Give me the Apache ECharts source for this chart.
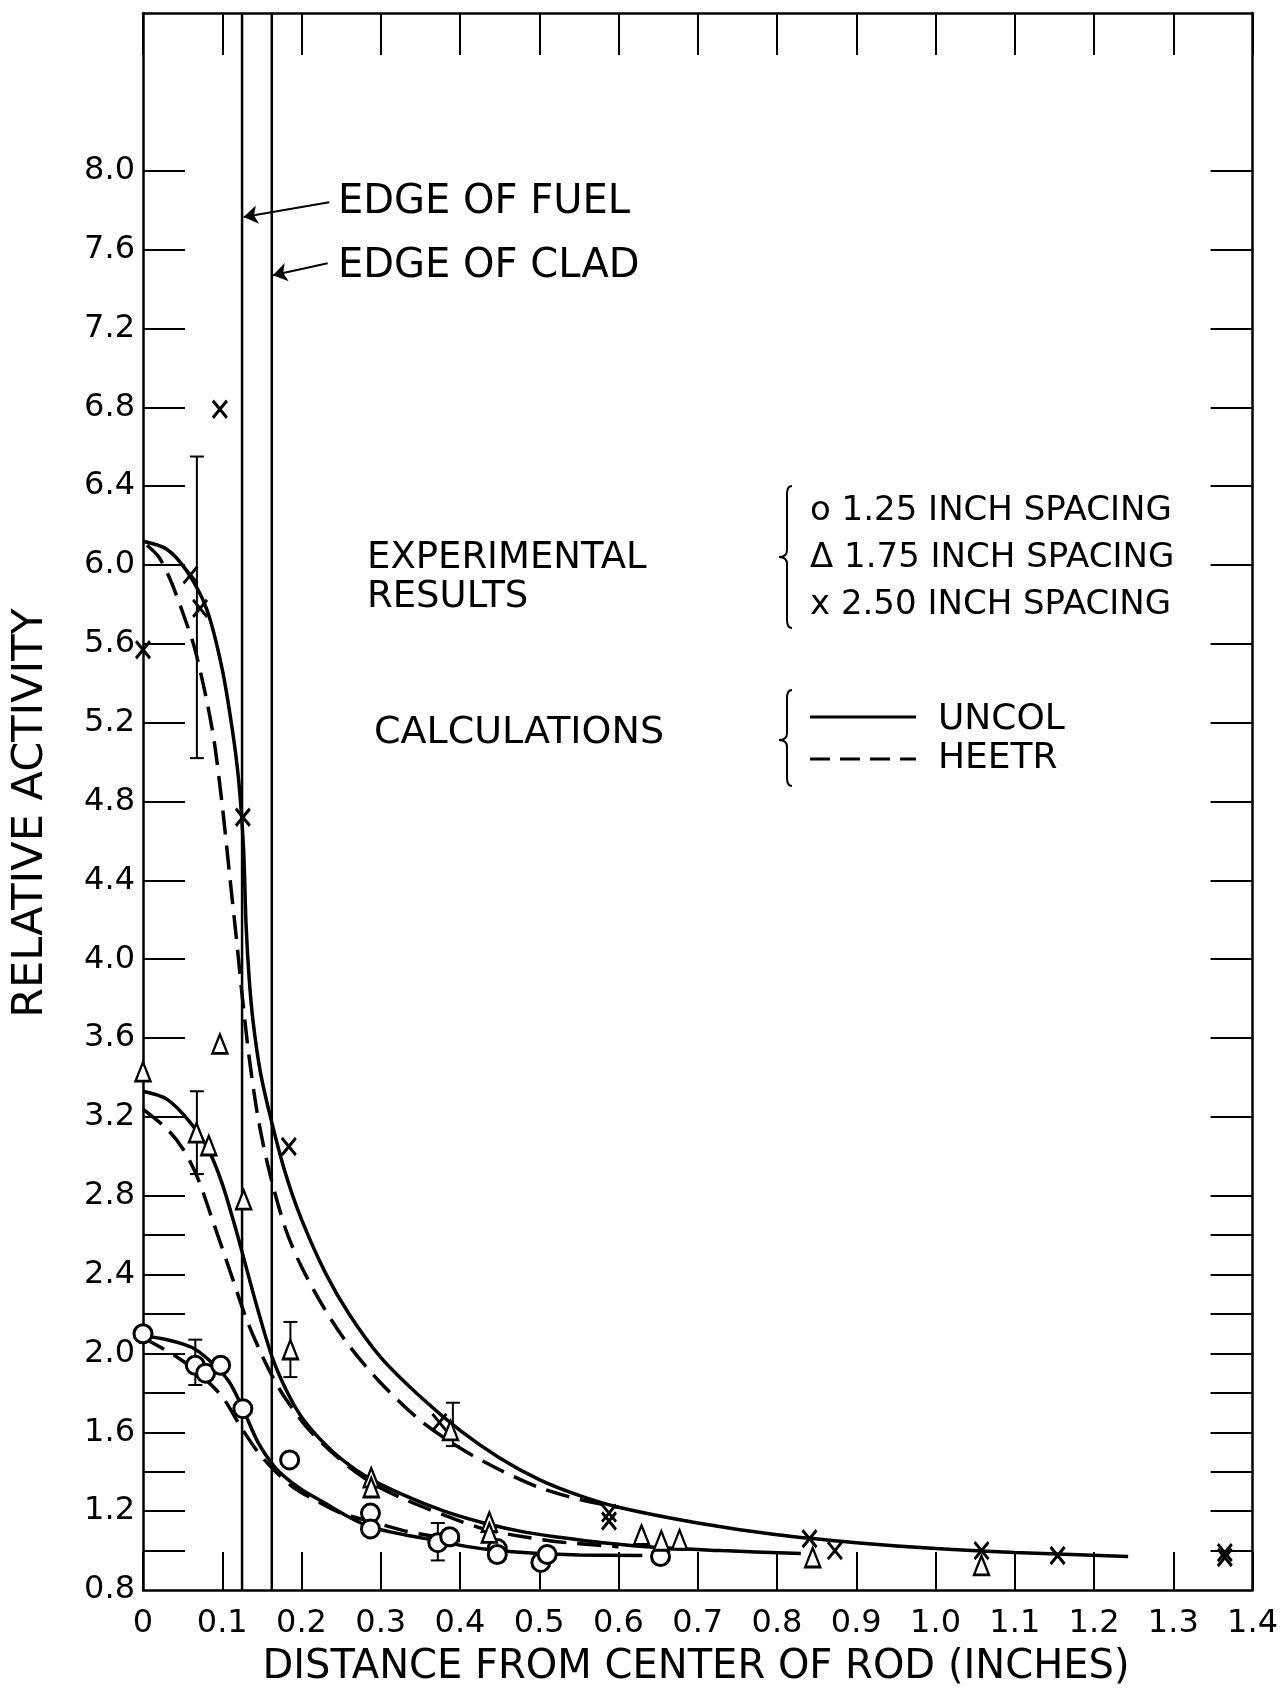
<!DOCTYPE html>
<html>
<head>
<meta charset="utf-8">
<script src="https://cdn.jsdelivr.net/npm/echarts@6/dist/echarts.min.js"></script>
<style>
html,body{margin:0;padding:0;background:#fff;}
#chart{width:1281px;height:1693px;}
</style>
</head>
<body>
<div id="chart"></div>
<script>
// ---------- axis definitions ----------
const xMin = 0, xMax = 1.4;
const yMin = 0.8, yMax = 8.8;
const xLabelValues = [0, 0.1, 0.2, 0.3, 0.4, 0.5, 0.6, 0.7, 0.8, 0.9, 1.0, 1.1, 1.2, 1.3, 1.4];
const xLabelTexts  = ['0', '0.1', '0.2', '0.3', '0.4', '0.5', '0.6', '0.7', '0.8', '0.9', '1.0', '1.1', '1.2', '1.3', '1.4'];
const yLabelValues = [0.8, 1.2, 1.6, 2.0, 2.4, 2.8, 3.2, 3.6, 4.0, 4.4, 4.8, 5.2, 5.6, 6.0, 6.4, 6.8, 7.2, 7.6, 8.0];
const yTickValues  = [1.0, 1.2, 1.4, 1.6, 1.8, 2.0, 2.2, 2.4, 2.6, 2.8, 3.2, 3.6, 4.0, 4.4, 4.8, 5.2, 5.6, 6.0, 6.4, 6.8, 7.2, 7.6, 8.0];

// ---------- experimental results ----------
const circles125 = [[0, 2.10], [0.066, 1.94], [0.079, 1.90], [0.098, 1.94], [0.126, 1.72], [0.185, 1.46],
  [0.287, 1.19], [0.287, 1.11], [0.372, 1.04], [0.387, 1.07], [0.447, 1.01], [0.447, 0.98],
  [0.502, 0.94], [0.510, 0.98], [0.653, 0.97]];
const triangles175 = [[0, 3.43], [0.0675, 3.12], [0.083, 3.055], [0.097, 3.57], [0.127, 2.78], [0.186, 2.02],
  [0.288, 1.37], [0.288, 1.32], [0.388, 1.61], [0.437, 1.145], [0.437, 1.09], [0.629, 1.08],
  [0.654, 1.05], [0.677, 1.055], [0.845, 0.965], [1.058, 0.925]];
const crosses250 = [[0, 5.57], [0.060, 5.95], [0.072, 5.78], [0.097, 6.79], [0.126, 4.72], [0.184, 3.05],
  [0.374, 1.65], [0.588, 1.19], [0.588, 1.15], [0.841, 1.06], [0.873, 1.00], [1.058, 1.00],
  [1.154, 0.975], [1.365, 0.99], [1.365, 0.965]];
// [x, low, high]
const errorBars = [[0.068, 5.02, 6.55], [0.068, 2.91, 3.33], [0.066, 1.84, 2.07],
  [0.186, 1.88, 2.16], [0.391, 1.53, 1.75], [0.372, 0.95, 1.14]];

// ---------- calculations ----------
const uncol250 = [[0, 6.12], [0.03, 6.08], [0.055, 5.97], [0.08, 5.78], [0.10, 5.47], [0.115, 5.10],
  [0.122, 4.85], [0.127, 4.55], [0.130, 4.18], [0.134, 3.90], [0.139, 3.68], [0.148, 3.43], [0.162, 3.18],
  [0.18, 2.91], [0.20, 2.68], [0.23, 2.41], [0.26, 2.20], [0.30, 1.98], [0.35, 1.78], [0.40, 1.61],
  [0.45, 1.47], [0.50, 1.36], [0.55, 1.28], [0.60, 1.22], [0.70, 1.14], [0.80, 1.08], [0.90, 1.04],
  [1.00, 1.01], [1.10, 0.99], [1.243, 0.97]];
const heetr250 = [[0.005, 6.10], [0.02, 6.04], [0.035, 5.92], [0.05, 5.76], [0.065, 5.58], [0.08, 5.32],
  [0.09, 5.10], [0.10, 4.78], [0.11, 4.40], [0.118, 4.10], [0.125, 3.82], [0.134, 3.50], [0.145, 3.20],
  [0.159, 2.93], [0.18, 2.63], [0.20, 2.44], [0.23, 2.22], [0.26, 2.04], [0.30, 1.85], [0.35, 1.66],
  [0.40, 1.52], [0.45, 1.41], [0.50, 1.32], [0.55, 1.26], [0.60, 1.22]];
const uncol175 = [[0, 3.33], [0.03, 3.29], [0.06, 3.17], [0.083, 3.03], [0.10, 2.86], [0.115, 2.66],
  [0.126, 2.50], [0.145, 2.22], [0.164, 1.97], [0.185, 1.78], [0.205, 1.65], [0.24, 1.50], [0.28, 1.38],
  [0.33, 1.28], [0.38, 1.20], [0.43, 1.14], [0.48, 1.095], [0.53, 1.065], [0.58, 1.04], [0.65, 1.015],
  [0.73, 1.00], [0.83, 0.985]];
const heetr175 = [[0, 3.24], [0.03, 3.14], [0.05, 3.04], [0.068, 2.90], [0.09, 2.65], [0.113, 2.38],
  [0.13, 2.18], [0.149, 2.00], [0.165, 1.87], [0.18, 1.77], [0.21, 1.61], [0.255, 1.44], [0.29, 1.34],
  [0.33, 1.26], [0.38, 1.18], [0.43, 1.11], [0.48, 1.07], [0.535, 1.04], [0.60, 1.02]];
const uncol125 = [[0, 2.09], [0.03, 2.07], [0.062, 2.03], [0.085, 1.96], [0.108, 1.86], [0.126, 1.72],
  [0.145, 1.55], [0.165, 1.43], [0.18, 1.37], [0.20, 1.31], [0.23, 1.24], [0.26, 1.17], [0.287, 1.12],
  [0.33, 1.08], [0.372, 1.05], [0.41, 1.02], [0.447, 1.00], [0.50, 0.985], [0.55, 0.978], [0.63, 0.975]];
const heetr125 = [[0, 2.08], [0.04, 1.99], [0.07, 1.90], [0.10, 1.78], [0.123, 1.63], [0.145, 1.50],
  [0.165, 1.41], [0.19, 1.32], [0.22, 1.25], [0.25, 1.19], [0.29, 1.145], [0.33, 1.10], [0.37, 1.07],
  [0.40, 1.05]];

// ---------- rod geometry annotations ----------
const fuelEdgeX = 0.125;
const cladEdgeX = 0.1625;
const fuelArrow = [[0.235, 7.84], [0.127, 7.765]];
const cladArrow = [[0.233, 7.53], [0.164, 7.47]];

// ---------- texts ----------
const FONT = '"DejaVu Sans", "Liberation Sans", sans-serif';
const yTitle = 'RELATIVE ACTIVITY';
const xTitle = 'DISTANCE FROM CENTER OF ROD (INCHES)';
const legendExp = ['o 1.25 INCH SPACING', 'Δ 1.75 INCH SPACING', 'x 2.50 INCH SPACING'];
const legendCalc = ['UNCOL', 'HEETR'];

const BLACK = '#000';

function near(list, v) {
  return list.findIndex(t => Math.abs(t - v) < 1e-6);
}

function curve(name, data, dashed) {
  return {
    type: 'line', name: name, data: data, smooth: 0.3,
    symbol: 'none', silent: true, z: 3,
    lineStyle: { color: BLACK, width: 3.5, type: dashed ? [24, 11] : 'solid' }
  };
}

function brace(xb, y0, y1, ym) {
  const st = { stroke: BLACK, lineWidth: 2, fill: null };
  return {
    type: 'group', silent: true,
    children: [
      { type: 'bezierCurve', shape: { x1: xb + 5, y1: y0, cpx1: xb, cpy1: y0, x2: xb, y2: y0 + 8 }, style: st },
      { type: 'line', shape: { x1: xb, y1: y0 + 8, x2: xb, y2: ym - 7 }, style: st },
      { type: 'bezierCurve', shape: { x1: xb, y1: ym - 7, cpx1: xb, cpy1: ym, x2: xb - 8, y2: ym }, style: st },
      { type: 'bezierCurve', shape: { x1: xb - 8, y1: ym, cpx1: xb, cpy1: ym, x2: xb, y2: ym + 7 }, style: st },
      { type: 'line', shape: { x1: xb, y1: ym + 7, x2: xb, y2: y1 - 8 }, style: st },
      { type: 'bezierCurve', shape: { x1: xb, y1: y1 - 8, cpx1: xb, cpy1: y1, x2: xb + 5, y2: y1 }, style: st }
    ]
  };
}

function label(text, x, y, size, opts) {
  const o = opts || {};
  return {
    type: 'text', x: x, y: y, silent: true, rotation: o.rotation || 0,
    style: { text: text, font: `${size}px ${FONT}`, fill: BLACK, align: o.align || 'left', verticalAlign: 'middle' }
  };
}

const axisLineStyle = { color: BLACK, width: 2.5 };
const tickLineStyle = { color: BLACK, width: 2 };

const chart = echarts.init(document.getElementById('chart'), null, { renderer: 'canvas' });

const option = {
  animation: false,
  backgroundColor: '#fff',
  grid: { left: 143, right: 19, top: 13, bottom: 103, containLabel: false },
  xAxis: [
    {
      type: 'value', min: xMin, max: xMax, interval: 0.1, position: 'bottom',
      axisLine: { show: true, onZero: false, lineStyle: axisLineStyle },
      axisTick: { show: true, inside: true, length: 38, lineStyle: tickLineStyle },
      axisLabel: {
        show: true, color: BLACK, fontSize: 32, fontFamily: FONT, margin: 18,
        formatter: v => { const i = near(xLabelValues, v); return i >= 0 ? xLabelTexts[i] : ''; }
      },
      splitLine: { show: false }
    },
    {
      type: 'value', min: xMin, max: xMax, interval: 0.1, position: 'top',
      axisLine: { show: true, onZero: false, lineStyle: axisLineStyle },
      axisTick: { show: true, inside: true, length: 42, lineStyle: tickLineStyle },
      axisLabel: { show: false },
      splitLine: { show: false }
    }
  ],
  yAxis: [
    {
      type: 'value', min: yMin, max: yMax, interval: 0.4, position: 'left',
      axisLine: { show: true, onZero: false, lineStyle: axisLineStyle },
      axisTick: { show: true, inside: true, length: 42, lineStyle: tickLineStyle, customValues: yTickValues },
      axisLabel: {
        show: true, color: BLACK, fontSize: 32, fontFamily: FONT, margin: 8, customValues: yLabelValues,
        formatter: v => (near(yLabelValues, v) >= 0 ? v.toFixed(1) : '')
      },
      splitLine: { show: false }
    },
    {
      type: 'value', min: yMin, max: yMax, interval: 0.4, position: 'right',
      axisLine: { show: true, onZero: false, lineStyle: axisLineStyle },
      axisTick: { show: true, inside: true, length: 42, lineStyle: tickLineStyle, customValues: yTickValues },
      axisLabel: { show: false },
      splitLine: { show: false }
    }
  ],
  series: [
    {
      type: 'line', name: 'Edge of fuel', data: [[fuelEdgeX, yMin], [fuelEdgeX, yMax]],
      symbol: 'none', silent: true, z: 2, lineStyle: { color: BLACK, width: 2.5 },
      markLine: {
        silent: true, symbol: ['none', 'arrow'], symbolSize: 14,
        label: { show: false },
        lineStyle: { color: BLACK, width: 2, type: 'solid', curveness: -0.1 },
        data: [
          [{ coord: fuelArrow[0] }, { coord: fuelArrow[1] }],
          [{ coord: cladArrow[0] }, { coord: cladArrow[1] }]
        ]
      }
    },
    {
      type: 'line', name: 'Edge of clad', data: [[cladEdgeX, yMin], [cladEdgeX, yMax]],
      symbol: 'none', silent: true, z: 2, lineStyle: { color: BLACK, width: 2.5 }
    },
    curve('UNCOL 2.50', uncol250, false),
    curve('HEETR 2.50', heetr250, true),
    curve('UNCOL 1.75', uncol175, false),
    curve('HEETR 1.75', heetr175, true),
    curve('UNCOL 1.25', uncol125, false),
    curve('HEETR 1.25', heetr125, true),
    {
      type: 'custom', name: 'Error bars', data: errorBars, z: 4, silent: true,
      encode: { x: 0, y: [1, 2] },
      renderItem: (params, api) => {
        const x = api.value(0), lo = api.value(1), hi = api.value(2);
        const top = api.coord([x, hi]), bot = api.coord([x, lo]);
        const w = 7;
        const st = { stroke: BLACK, lineWidth: 2 };
        return {
          type: 'group',
          children: [
            { type: 'line', shape: { x1: top[0], y1: top[1], x2: bot[0], y2: bot[1] }, style: st },
            { type: 'line', shape: { x1: top[0] - w, y1: top[1], x2: top[0] + w, y2: top[1] }, style: st },
            { type: 'line', shape: { x1: bot[0] - w, y1: bot[1], x2: bot[0] + w, y2: bot[1] }, style: st }
          ]
        };
      }
    },
    {
      type: 'scatter', name: '1.25 INCH SPACING', data: circles125, z: 6, silent: true,
      symbol: 'circle', symbolSize: 18,
      itemStyle: { color: '#fff', borderColor: BLACK, borderWidth: 3, opacity: 1 }
    },
    {
      type: 'scatter', name: '1.75 INCH SPACING', data: triangles175, z: 6, silent: true,
      symbol: 'triangle', symbolSize: [15, 19],
      itemStyle: { color: '#fff', borderColor: BLACK, borderWidth: 2.5, opacity: 1 }
    },
    {
      type: 'scatter', name: '2.50 INCH SPACING', data: crosses250, z: 6, silent: true,
      symbol: 'path://M0,0L10,12M10,0L0,12', symbolSize: [14, 17],
      itemStyle: { color: 'rgba(0,0,0,0)', borderColor: BLACK, borderWidth: 3, opacity: 1 }
    }
  ],
  graphic: [
    label(yTitle, 31, 813, 43, { rotation: Math.PI / 2, align: 'center' }),
    label(xTitle, 696, 1668, 40, { align: 'center' }),
    label('EDGE OF FUEL', 338, 203, 40),
    label('EDGE OF CLAD', 338, 267, 40),
    label('EXPERIMENTAL', 367, 558, 37),
    label('RESULTS', 367, 597, 37),
    label('CALCULATIONS', 374, 733, 38),
    brace(787, 486, 628, 557),
    brace(787, 690, 786, 740),
    label(legendExp[0], 810, 511, 34),
    label(legendExp[1], 810, 558, 34),
    label(legendExp[2], 810, 605, 34),
    { type: 'line', silent: true, shape: { x1: 810, y1: 717, x2: 916, y2: 717 },
      style: { stroke: BLACK, lineWidth: 3 } },
    { type: 'line', silent: true, shape: { x1: 810, y1: 759, x2: 916, y2: 759 },
      style: { stroke: BLACK, lineWidth: 3, lineDash: [20, 10] } },
    label(legendCalc[0], 938, 720, 36),
    label(legendCalc[1], 938, 759, 36)
  ]
};

chart.setOption(option);
</script>
</body>
</html>
